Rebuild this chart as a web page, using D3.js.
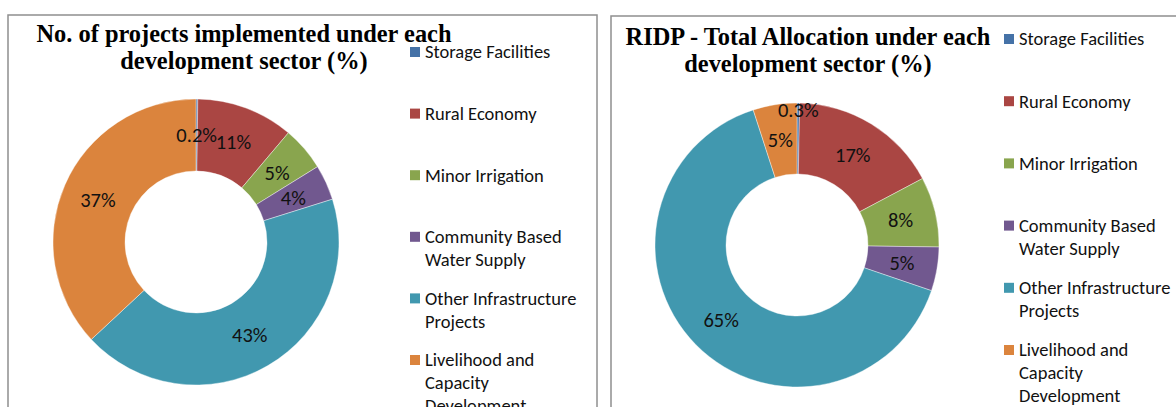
<!DOCTYPE html>
<html>
<head>
<meta charset="utf-8">
<script src="https://cdn.jsdelivr.net/npm/d3@7"></script>
<style>
  body { margin: 0; background: #fff; }
  svg { display: block; }
  .title { font-family: "Liberation Serif", "Times New Roman", serif; font-weight: bold; font-size: 24.4px; fill: #000; }
  .legend-text { font-family: Carlito, Lato, "Open Sans", sans-serif; font-size: 18.5px; fill: #111; }
  .slice-label { font-family: Carlito, Lato, "Open Sans", sans-serif; font-size: 20.5px; fill: #111; }
</style>
</head>
<body>
<svg id="chart" width="1176" height="407"></svg>
<script>
// sectors (same order in both charts)
const sectors = ['Storage Facilities', 'Rural Economy', 'Minor Irrigation',
  'Community Based Water Supply', 'Other Infrastructure Projects', 'Livelihood and Capacity Development'];
const legendLines = [
  ['Storage Facilities'],
  ['Rural Economy'],
  ['Minor Irrigation'],
  ['Community Based', 'Water Supply'],
  ['Other Infrastructure', 'Projects'],
  ['Livelihood and', 'Capacity', 'Development']
];
const sectorColors = ['#4572A7', '#AA4643', '#89A54E', '#71588F', '#4198AF', '#DB843D'];

// % of projects implemented
const projectShare = [0.2, 11, 5, 4, 43, 37];
// % of total allocation
const allocationShare = [0.3, 17, 8, 5, 65, 5];

const projectTitle = ['No. of projects implemented under each', 'development sector (%)'];
const allocationTitle = ['RIDP - Total Allocation under each', 'development sector (%)'];

const svg = d3.select('#chart');

function fmtPct(v) {
  return (v < 1 ? v.toFixed(1) : d3.format('.0f')(v)) + '%';
}

function drawPanel(g, cfg) {
  // panel frame
  g.append('rect')
    .attr('x', cfg.frame[0]).attr('y', cfg.frame[1])
    .attr('width', cfg.frame[2]).attr('height', cfg.frame[3])
    .attr('fill', 'none')
    .attr('stroke', '#8f8f8f')
    .attr('stroke-width', 1.5);

  // title
  g.selectAll('text.title')
    .data(cfg.title)
    .enter()
    .append('text')
    .attr('class', 'title')
    .attr('x', cfg.titleX)
    .attr('y', (d, i) => cfg.titleY + i * 27)
    .attr('text-anchor', 'middle')
    .text(d => d);

  const color = d3.scaleOrdinal().domain(sectors).range(sectorColors);
  const pie = d3.pie().sort(null).value(d => d.value);
  const arcs = pie(sectors.map((s, i) => ({ sector: s, value: cfg.values[i] })));

  const arc = d3.arc().innerRadius(cfg.inner).outerRadius(cfg.outer);
  const labelArc = d3.arc().innerRadius((cfg.inner + cfg.outer) / 2).outerRadius((cfg.inner + cfg.outer) / 2);

  const donut = g.append('g').attr('transform', `translate(${cfg.cx},${cfg.cy})`);

  donut.selectAll('path')
    .data(arcs)
    .enter()
    .append('path')
    .attr('d', arc)
    .attr('fill', d => color(d.data.sector))
    .attr('stroke', '#fff')
    .attr('stroke-width', 0.4);

  donut.selectAll('text.slice-label')
    .data(arcs)
    .enter()
    .append('text')
    .attr('class', 'slice-label')
    .attr('transform', d => {
      let p = labelArc.centroid(d);
      // tiny slices crowded by a neighbour label get pushed out towards the rim
      if (d.data.value < 1 && cfg.tinyLabelR) {
        const a = (d.startAngle + d.endAngle) / 2;
        p = [Math.sin(a) * cfg.tinyLabelR, -Math.cos(a) * cfg.tinyLabelR];
      }
      return `translate(${p[0]},${p[1]})`;
    })
    .attr('text-anchor', 'middle')
    .attr('dy', '0.36em')
    .text(d => fmtPct(d.data.value));

  // legend
  const legend = g.append('g')
    .attr('transform', `translate(${cfg.legendX},${cfg.legendY})`);

  const item = legend.selectAll('g.item')
    .data(sectors)
    .enter()
    .append('g')
    .attr('class', 'item')
    .attr('transform', (d, i) => `translate(0,${i * cfg.legendStep})`);

  item.append('rect')
    .attr('x', 0).attr('y', -5)
    .attr('width', 10).attr('height', 10)
    .attr('fill', d => color(d));

  item.each(function(d, i) {
    d3.select(this).selectAll('text')
      .data(legendLines[i])
      .enter()
      .append('text')
      .attr('class', 'legend-text')
      .attr('x', 15)
      .attr('y', (t, j) => j * 23)
      .attr('dy', '0.35em')
      .text(t => t);
  });
}

drawPanel(svg.append('g'), {
  frame: [8, 15, 589, 420],
  title: projectTitle, titleX: 244, titleY: 42,
  values: projectShare,
  cx: 196, cy: 242, outer: 143, inner: 71,
  tinyLabelR: null,
  legendX: 410, legendY: 52, legendStep: 61.6
});

drawPanel(svg.append('g'), {
  frame: [611, 16, 600, 420],
  title: allocationTitle, titleX: 808, titleY: 45,
  values: allocationShare,
  cx: 797, cy: 245, outer: 142, inner: 71,
  tinyLabelR: 135,
  legendX: 1004, legendY: 39, legendStep: 62.2
});
</script>
</body>
</html>
